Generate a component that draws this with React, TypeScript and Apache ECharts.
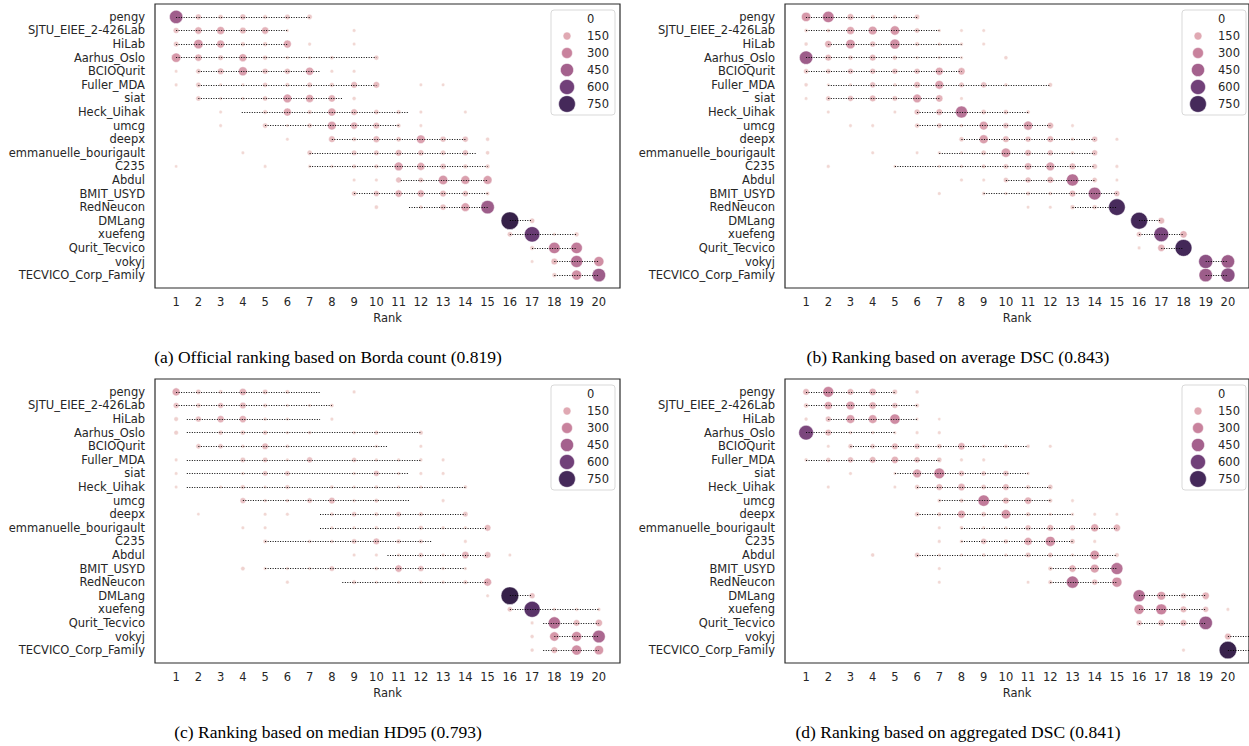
import React, { useEffect, useRef } from "react";
import * as echarts from "echarts";

const teams = [
  "pengy", "SJTU_EIEE_2-426Lab", "HiLab", "Aarhus_Oslo", "BCIOQurit", "Fuller_MDA", "siat",
  "Heck_Uihak", "umcg", "deepx", "emmanuelle_bourigault", "C235", "Abdul", "BMIT_USYD",
  "RedNeucon", "DMLang", "xuefeng", "Qurit_Tecvico", "vokyj", "TECVICO_Corp_Family",
];
const rankTicks = [1, 2, 3, 4, 5, 6, 7, 8, 9, 10, 11, 12, 13, 14, 15, 16, 17, 18, 19, 20];
const legendValues = [0, 150, 300, 450, 600, 750];
const captions = [
  "(a) Official ranking based on Borda count (0.819)",
  "(b) Ranking based on average DSC (0.843)",
  "(c) Ranking based on median HD95 (0.793)",
  "(d) Ranking based on aggregated DSC (0.841)",
];

// [rank, count] per team (same order as teams)
const bordaCounts = [
  [[1, 465], [2, 72], [3, 42], [4, 72], [5, 30], [6, 55], [7, 50]],
  [[1, 72], [2, 120], [3, 150], [4, 95], [5, 120], [6, 6], [9, 8]],
  [[1, 55], [2, 215], [3, 150], [4, 35], [5, 35], [6, 150], [7, 8], [9, 6]],
  [[1, 215], [2, 120], [3, 55], [4, 150], [5, 42], [6, 12], [7, 6], [8, 17], [10, 42]],
  [[1, 6], [2, 50], [3, 95], [4, 197], [5, 72], [6, 75], [7, 160], [8, 8], [9, 8]],
  [[1, 8], [2, 50], [3, 5], [4, 5], [5, 45], [6, 30], [7, 55], [8, 35], [9, 95], [10, 95], [12, 6], [13, 6]],
  [[2, 50], [3, 8], [4, 8], [5, 50], [6, 180], [7, 150], [8, 120], [9, 17]],
  [[3, 6], [5, 30], [6, 150], [7, 30], [8, 155], [9, 95], [10, 50], [11, 30], [12, 8], [14, 6]],
  [[3, 6], [5, 50], [6, 5], [7, 42], [8, 180], [9, 120], [10, 95], [11, 30], [12, 6]],
  [[6, 6], [8, 95], [9, 30], [10, 100], [11, 50], [12, 180], [13, 72], [14, 72], [15, 17]],
  [[4, 6], [7, 50], [9, 55], [10, 55], [11, 95], [12, 75], [13, 50], [14, 72], [15, 20]],
  [[1, 2], [5, 6], [7, 6], [8, 6], [9, 30], [10, 30], [11, 180], [12, 150], [13, 72], [14, 35], [15, 30]],
  [[9, 8], [10, 8], [11, 72], [12, 50], [13, 215], [14, 185], [15, 185]],
  [[9, 50], [10, 72], [11, 120], [12, 120], [13, 95], [14, 75], [15, 20]],
  [[10, 20], [12, 17], [13, 75], [14, 180], [15, 470]],
  [[16, 840], [17, 50]],
  [[16, 50], [17, 630], [18, 6], [19, 35]],
  [[17, 30], [18, 330], [19, 330]],
  [[17, 6], [18, 95], [19, 370], [20, 250]],
  [[18, 35], [19, 250], [20, 470]],
];
const bordaCI = [
  [1, 7], [1, 6], [1, 6], [1, 10], [2, 7.47], [2, 10], [2, 8.45], [3.95, 11.47], [5, 11], [8, 14],
  [7, 14.47], [7, 15], [11.1, 15], [9, 15], [11.47, 15], [16, 17], [16, 19], [17, 19], [18, 20], [18, 20],
];

const avgCounts = [
  [[1, 215], [2, 330], [3, 95], [4, 30], [5, 30], [6, 50]],
  [[1, 17], [2, 20], [3, 150], [4, 180], [5, 215], [6, 50], [7, 8], [8, 6], [9, 6]],
  [[1, 17], [2, 120], [3, 215], [4, 72], [5, 250], [6, 30], [7, 8], [8, 12], [9, 6]],
  [[1, 470], [2, 95], [3, 42], [4, 95], [5, 42], [6, 5], [7, 5], [8, 6], [10, 17]],
  [[1, 50], [2, 50], [3, 72], [4, 72], [5, 72], [6, 72], [7, 150], [8, 120]],
  [[1, 17], [2, 4], [3, 5], [4, 72], [5, 15], [6, 95], [7, 180], [8, 55], [9, 72], [10, 15], [12, 30]],
  [[1, 6], [2, 50], [3, 72], [4, 95], [5, 55], [6, 180], [7, 120], [8, 8]],
  [[2, 6], [5, 6], [6, 72], [7, 95], [8, 370], [9, 50], [10, 42], [11, 20]],
  [[3, 6], [4, 6], [6, 42], [7, 50], [8, 12], [9, 180], [10, 72], [11, 200], [12, 95], [13, 6]],
  [[8, 42], [9, 190], [10, 95], [11, 72], [12, 95], [13, 12], [14, 72], [15, 8]],
  [[4, 6], [6, 5], [7, 8], [8, 6], [9, 50], [10, 215], [11, 95], [12, 72], [13, 12], [14, 72]],
  [[2, 8], [5, 4], [7, 5], [8, 6], [9, 30], [10, 50], [11, 120], [12, 180], [13, 95], [14, 55], [15, 8]],
  [[8, 8], [9, 6], [10, 50], [11, 72], [12, 95], [13, 380], [14, 50], [15, 6]],
  [[7, 8], [9, 15], [10, 6], [11, 30], [12, 17], [13, 95], [14, 420], [15, 72]],
  [[11, 5], [12, 6], [13, 35], [14, 35], [15, 740]],
  [[16, 760], [17, 95]],
  [[16, 55], [17, 570], [18, 120]],
  [[16, 8], [17, 120], [18, 760]],
  [[19, 520], [20, 470]],
  [[19, 470], [20, 520]],
];
const avgCI = [
  [1, 6], [1, 7], [2, 8], [1, 8], [1, 8], [2, 12], [2, 7], [6, 11], [6, 12], [8, 14],
  [7, 14], [5, 14], [10, 14], [9, 15], [13, 15], [16, 17], [16, 18], [17, 18], [19, 20], [19, 20],
];

const hd95Counts = [
  [[1, 150], [2, 50], [3, 25], [4, 120], [5, 50], [6, 25], [9, 8]],
  [[1, 72], [2, 42], [3, 72], [4, 95], [5, 25], [6, 6], [7, 6], [8, 20]],
  [[1, 30], [2, 72], [3, 120], [4, 120], [5, 15], [6, 6], [8, 8]],
  [[1, 30], [3, 42], [4, 42], [5, 42], [6, 6], [7, 15], [9, 8], [10, 30], [12, 30]],
  [[2, 50], [3, 50], [4, 15], [5, 95], [6, 15], [10, 6], [12, 8]],
  [[1, 8], [4, 50], [5, 50], [6, 6], [7, 72], [9, 42], [10, 8], [11, 8], [12, 15], [13, 8]],
  [[1, 6], [4, 8], [5, 55], [6, 55], [9, 8], [10, 72], [11, 8], [12, 8], [13, 8]],
  [[1, 6], [3, 6], [4, 35], [5, 6], [6, 35], [8, 15], [9, 6], [10, 15], [11, 6], [12, 8], [14, 15]],
  [[4, 72], [5, 15], [6, 15], [7, 55], [8, 95], [9, 8], [10, 30], [13, 8]],
  [[2, 2], [5, 8], [6, 8], [8, 20], [9, 50], [10, 25], [11, 55], [12, 35], [14, 55]],
  [[4, 8], [5, 8], [8, 8], [9, 8], [10, 15], [11, 8], [12, 35], [13, 12], [14, 8], [15, 95]],
  [[5, 25], [7, 15], [8, 15], [9, 50], [10, 95], [11, 35], [12, 30], [14, 8]],
  [[9, 8], [10, 8], [11, 8], [12, 42], [13, 8], [14, 120], [15, 95], [16, 6]],
  [[4, 25], [5, 8], [6, 6], [7, 6], [8, 55], [10, 15], [11, 120], [12, 72], [13, 6], [14, 8]],
  [[6, 8], [9, 30], [10, 5], [11, 6], [12, 15], [13, 8], [14, 30], [15, 150]],
  [[15, 6], [16, 840], [17, 72]],
  [[16, 50], [17, 683], [18, 8], [19, 8], [20, 15]],
  [[17, 8], [18, 380], [19, 95], [20, 120]],
  [[17, 15], [18, 215], [19, 250], [20, 420]],
  [[17, 15], [18, 95], [19, 250], [20, 215]],
];
const hd95CI = [
  [1, 7.47], [1, 8], [1.48, 7.47], [1.48, 12], [2, 10.47], [1.48, 12], [1.48, 11.47], [1.48, 14], [4, 11.47], [7.47, 14],
  [7.47, 15], [5, 12.5], [10.5, 15], [5, 14], [8.47, 15], [16, 17], [16, 20], [17.5, 20], [18, 20], [17.5, 20],
];

const aggCounts = [
  [[1, 95], [2, 290], [3, 95], [4, 120], [5, 50], [6, 15]],
  [[1, 42], [2, 150], [3, 180], [4, 120], [5, 72], [6, 25]],
  [[1, 15], [2, 72], [3, 180], [4, 180], [5, 260], [6, 6], [7, 2]],
  [[1, 570], [2, 95], [3, 15], [4, 10], [5, 6], [6, 8], [7, 8]],
  [[2, 6], [3, 42], [4, 50], [5, 95], [6, 72], [7, 42], [8, 120], [9, 8], [10, 20], [11, 15], [12, 8]],
  [[1, 15], [2, 42], [3, 72], [4, 95], [5, 120], [6, 72], [7, 50], [8, 8], [9, 8]],
  [[3, 8], [5, 4], [6, 180], [7, 290], [8, 72], [9, 50], [10, 72], [11, 5]],
  [[2, 6], [5, 6], [6, 42], [7, 95], [8, 120], [9, 50], [10, 95], [11, 30], [12, 50]],
  [[7, 20], [8, 30], [9, 330], [10, 95], [11, 120], [12, 30], [13, 6]],
  [[6, 42], [7, 30], [8, 150], [9, 50], [10, 215], [11, 35], [12, 8], [13, 8], [14, 6], [15, 6]],
  [[7, 6], [8, 20], [9, 4], [10, 4], [11, 72], [12, 95], [13, 72], [14, 150], [15, 120]],
  [[7, 8], [8, 12], [9, 72], [10, 35], [11, 150], [12, 250], [13, 50], [14, 8]],
  [[4, 17], [6, 50], [7, 6], [8, 6], [9, 15], [10, 8], [11, 55], [12, 50], [13, 8], [14, 215], [15, 30]],
  [[7, 6], [12, 35], [13, 120], [14, 180], [15, 370]],
  [[7, 6], [11, 6], [12, 30], [13, 380], [14, 72], [15, 250]],
  [[16, 380], [17, 180], [18, 72], [19, 120]],
  [[16, 250], [17, 300], [18, 95], [19, 72], [20, 8]],
  [[16, 72], [17, 95], [18, 95], [19, 470]],
  [[20, 95]],
  [[18, 8], [20, 820]],
];
const aggCI = [
  [1, 5], [1, 6], [2, 6], [1, 5], [3, 11], [1, 7], [5, 11], [6, 12], [7, 12], [6, 13],
  [8, 15], [8, 13], [6, 15], [12, 15], [12, 15], [16, 19], [16, 19], [16, 19], [20, 21], [20, 21],
];

const colorStops: [number, string][] = [
  [0, "#f2dad5"], [150, "#e0a9b3"], [300, "#c8829d"], [450, "#a4618d"],
  [600, "#714079"], [750, "#45295a"], [900, "#2c1c3d"],
];

function hexToRgb(h: string) {
  const n = parseInt(h.slice(1), 16);
  return [(n >> 16) & 255, (n >> 8) & 255, n & 255];
}
function colorOf(v: number) {
  if (v <= colorStops[0][0]) return colorStops[0][1];
  for (let i = 1; i < colorStops.length; i++) {
    if (v <= colorStops[i][0]) {
      const [v0, c0] = colorStops[i - 1];
      const [v1, c1] = colorStops[i];
      const t = (v - v0) / (v1 - v0);
      const a = hexToRgb(c0), b = hexToRgb(c1);
      const c = a.map((x, k) => Math.round(x + (b[k] - x) * t));
      return `rgb(${c[0]},${c[1]},${c[2]})`;
    }
  }
  return colorStops[colorStops.length - 1][1];
}
const sizeOf = (v: number) => Math.sqrt(10 + 0.36 * v);

const FONT = "DejaVu Sans";
const TXT = "#262626";

export default function App() {
  const ref = useRef<HTMLDivElement>(null);
  useEffect(() => {
    if (!ref.current) return;
    const chart = echarts.init(ref.current, undefined, { renderer: "svg" });
    const panels = [
      { counts: bordaCounts, ci: bordaCI, left: 155, top: 4, capX: 328, capY: 357, legX: 551, legY: 10 },
      { counts: avgCounts, ci: avgCI, left: 785, top: 4, capX: 958, capY: 357, legX: 1182, legY: 10 },
      { counts: hd95Counts, ci: hd95CI, left: 155, top: 379, capX: 328, capY: 732, legX: 551, legY: 385 },
      { counts: aggCounts, ci: aggCI, left: 785, top: 379, capX: 958, capY: 732, legX: 1182, legY: 385 },
    ];
    const W = 465, H = 284;
    const graphics: any[] = [];
    panels.forEach((p, i) => {
      graphics.push({
        type: "text", x: p.capX, y: p.capY, z: 10,
        style: { text: captions[i], font: '17.5px "Liberation Serif"', fill: "#000", textAlign: "center", textVerticalAlign: "middle" },
      });
      const items: any[] = [
        { type: "rect", shape: { x: 0, y: 0, width: 64, height: 105, r: 3 }, style: { fill: "#fff", stroke: "#d9d9d9", lineWidth: 1 } },
      ];
      legendValues.forEach((v, k) => {
        const cy = 9 + 17 * k;
        if (v > 0) {
          items.push({ type: "circle", shape: { cx: 16, cy, r: sizeOf(v) / 2 }, style: { fill: colorOf(v), stroke: "#fff", lineWidth: 0.5 } });
        }
        items.push({ type: "text", x: 36, y: cy, style: { text: String(v), font: `11.5px "${FONT}"`, fill: TXT, textVerticalAlign: "middle" } });
      });
      graphics.push({ type: "group", x: p.legX, y: p.legY, z: 20, children: items });
    });

    const option: any = {
      animation: false,
      backgroundColor: "#fff",
      grid: panels.map((p) => ({
        left: p.left, top: p.top, width: W, height: H, show: true,
        borderColor: "#2b2b2b", borderWidth: 1.2, backgroundColor: "transparent",
      })),
      xAxis: panels.map((p, i) => ({
        gridIndex: i, type: "value", min: 0.05, max: 20.95,
        axisLine: { show: false }, axisTick: { show: false }, splitLine: { show: false },
        axisLabel: {
          customValues: rankTicks, formatter: (v: number) => String(Math.round(v)),
          color: TXT, fontSize: 11.5, fontFamily: FONT, margin: 8,
        },
        name: "Rank", nameLocation: "middle", nameGap: 24,
        nameTextStyle: { color: TXT, fontSize: 11.5, fontFamily: FONT },
      })),
      yAxis: panels.map((p, i) => ({
        gridIndex: i, type: "value", inverse: true, min: -0.95, max: 19.95,
        axisLine: { show: false }, axisTick: { show: false }, splitLine: { show: false },
        axisLabel: {
          customValues: teams.map((_, k) => k),
          formatter: (v: number) => teams[Math.round(v)] ?? "",
          color: TXT, fontSize: 11.5, fontFamily: FONT, margin: 10,
        },
      })),
      series: panels.flatMap((p, i) => [
        {
          type: "scatter", xAxisIndex: i, yAxisIndex: i, silent: true, z: 2,
          data: p.counts.flatMap((row, r) =>
            row.map(([rank, c]) => ({ value: [rank, r, c], itemStyle: { color: colorOf(c) } }))
          ),
          symbolSize: (val: number[]) => sizeOf(val[2]),
          itemStyle: { borderColor: "#fff", borderWidth: 0.5, opacity: 1 },
        },
        {
          type: "lines", coordinateSystem: "cartesian2d", xAxisIndex: i, yAxisIndex: i, silent: true, z: 3,
          data: p.ci.map(([lo, hi], r) => ({ coords: [[lo, r], [hi, r]] })),
          lineStyle: { color: "#000", width: 1, type: [1, 1.5], opacity: 1, curveness: 0 },
        },
      ]),
      graphic: graphics,
    };
    chart.setOption(option);
    return () => chart.dispose();
  }, []);
  return <div ref={ref} style={{ position: "absolute", left: 0, top: 0, width: 1249, height: 746 }} />;
}
